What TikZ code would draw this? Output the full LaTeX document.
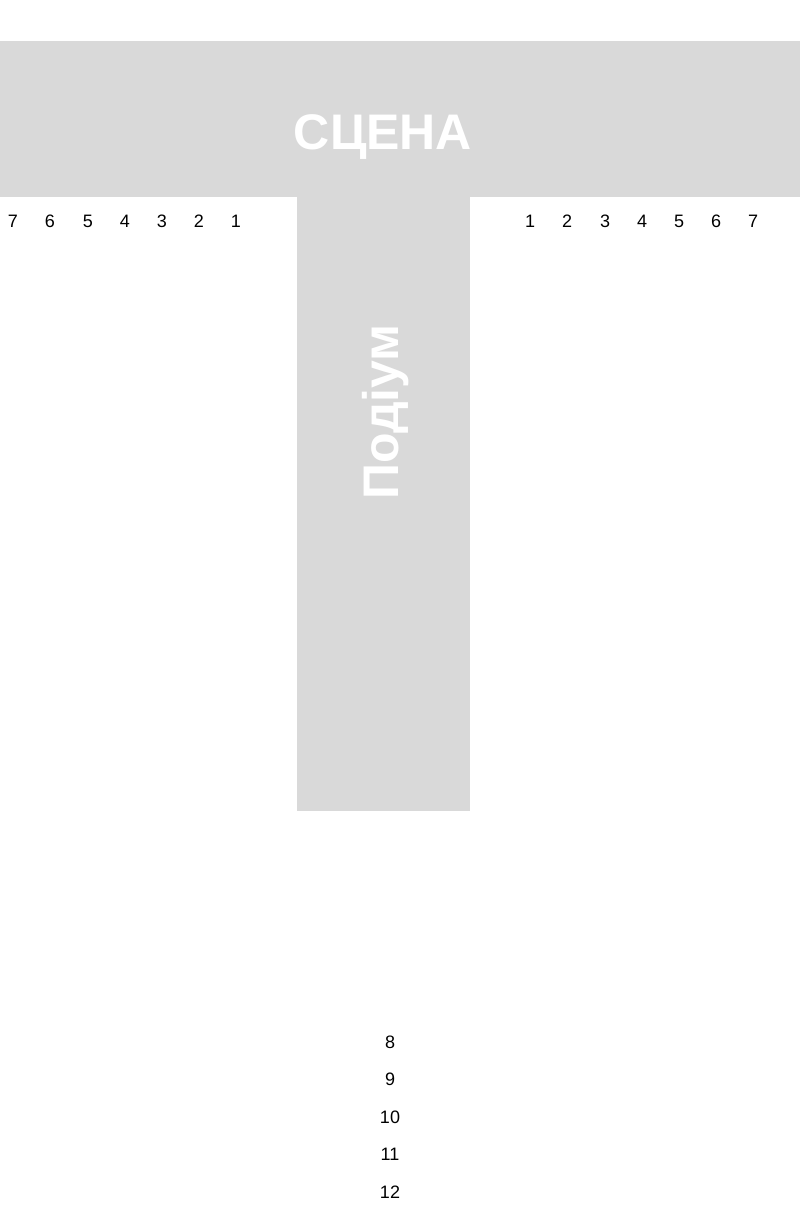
\documentclass[tikz,border=0pt]{standalone}
\usepackage{fontspec}
\setmainfont{Liberation Sans}
\definecolor{stagegray}{HTML}{D9D9D9}
\begin{document}
\begin{tikzpicture}[x=1pt,y=-1pt,
  area/.style={fill=stagegray,draw=none},
  bigtext/.style={text=white,font=\fontsize{50}{50}\selectfont\bfseries,inner sep=0pt,anchor=base},
  seat/.style={font=\fontsize{18}{18}\selectfont,inner sep=0pt,anchor=base}]
\useasboundingbox[fill=white] (0,0) rectangle (800,1217);
\fill[area] (0,41) rectangle (800,197);
\fill[area] (297,196) rectangle (470,811);
\node[bigtext] (stage) at (383,150) {СЦЕНА};
\node[bigtext,rotate=90] (podium) at (398,412) {Подіум};
\foreach \n/\x in {7/13,6/50,5/88,4/125,3/162,2/199,1/236}
  \node[seat] (l\n) at (\x,227) {\n};
\foreach \n/\x in {1/530,2/567,3/605,4/642,5/679,6/716,7/753}
  \node[seat] (r\n) at (\x,227) {\n};
\foreach \n/\y in {8/1048,9/1085,10/1123,11/1160,12/1198}
  \node[seat] (b\n) at (390,\y) {\n};
\end{tikzpicture}
\end{document}
